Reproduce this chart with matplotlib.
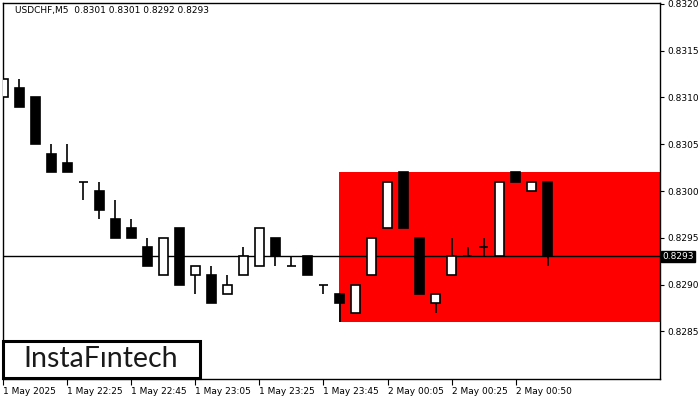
import matplotlib
matplotlib.use("Agg")
import matplotlib.pyplot as plt
from matplotlib.patches import Rectangle

# ---- data ----
opens  = [0.8310, 0.8311, 0.8310, 0.8304, 0.8303, 0.8301, 0.8300, 0.8297, 0.8296, 0.8294,
          0.8291, 0.8296, 0.8291, 0.8291, 0.8289, 0.8291, 0.8292, 0.8295, 0.8292, 0.8293,
          0.8290, 0.8289, 0.8287, 0.8291, 0.8296, 0.8302, 0.8295, 0.8288, 0.8291, 0.8293,
          0.8294, 0.8293, 0.8302, 0.8300, 0.8301]
highs  = [0.8312, 0.8312, 0.8310, 0.8305, 0.8305, 0.8301, 0.8301, 0.8299, 0.8297, 0.8295,
          0.8295, 0.8296, 0.8292, 0.8292, 0.8291, 0.8294, 0.8296, 0.8295, 0.8293, 0.8293,
          0.8290, 0.8289, 0.8290, 0.8295, 0.8301, 0.8302, 0.8295, 0.8289, 0.8295, 0.8294,
          0.8295, 0.8301, 0.8302, 0.8301, 0.8301]
lows   = [0.8309, 0.8309, 0.8305, 0.8302, 0.8302, 0.8299, 0.8297, 0.8295, 0.8295, 0.8292,
          0.8291, 0.8290, 0.8289, 0.8288, 0.8289, 0.8291, 0.8292, 0.8292, 0.8292, 0.8291,
          0.8289, 0.8286, 0.8287, 0.8291, 0.8296, 0.8296, 0.8289, 0.8287, 0.8291, 0.8293,
          0.8293, 0.8293, 0.8301, 0.8300, 0.8292]
closes = [0.8312, 0.8309, 0.8305, 0.8302, 0.8302, 0.8301, 0.8298, 0.8295, 0.8295, 0.8292,
          0.8295, 0.8290, 0.8292, 0.8288, 0.8290, 0.8293, 0.8296, 0.8293, 0.8292, 0.8291,
          0.8290, 0.8288, 0.8290, 0.8295, 0.8301, 0.8296, 0.8289, 0.8289, 0.8293, 0.8293,
          0.8294, 0.8301, 0.8301, 0.8301, 0.8293]

xtick_pos = [0, 4, 8, 12, 16, 20, 24, 28, 32]
xtick_labels = ["1 May 2025", "1 May 22:25", "1 May 22:45", "1 May 23:05", "1 May 23:25",
                "1 May 23:45", "2 May 00:05", "2 May 00:25", "2 May 00:50"]
ytick_vals = [0.8285, 0.8290, 0.8295, 0.8300, 0.8305, 0.8310, 0.8315, 0.8320]

zone_start = 21
zone_low, zone_high = 0.8286, 0.8302
current_price = 0.8293
title = "USDCHF,M5  0.8301 0.8301 0.8292 0.8293"

# ---- figure ----
W, H = 700, 400
fig = plt.figure(figsize=(7, 4), dpi=100)
ax = fig.add_axes([3 / W, (400 - 379) / H, (660 - 3) / W, (379 - 3) / H])
ax.set_xlim(-0.03, 41.03)
ax.set_ylim(0.82799, 0.83201)

# zone rectangle
ax.add_patch(Rectangle((zone_start - 0.03, zone_low), 41.03 - zone_start + 0.03, zone_high - zone_low,
                       facecolor="#ff0000", edgecolor="none", zorder=1))

# current price line
ax.axhline(current_price, color="black", lw=1.0, zorder=2)

bw = 0.62
for i, (o, h, l, c) in enumerate(zip(opens, highs, lows, closes)):
    ax.vlines(i, l, h, color="black", lw=1.2, zorder=3)
    lo, hi = min(o, c), max(o, c)
    if hi - lo < 1e-9:
        ax.hlines(o, i - bw / 2, i + bw / 2, color="black", lw=1.2, zorder=4)
    else:
        face = "white" if c > o else "black"
        ax.add_patch(Rectangle((i - bw / 2, lo), bw, hi - lo, facecolor=face,
                               edgecolor="black", lw=1.2, zorder=4))

# axes styling
for s in ["left", "right", "top", "bottom"]:
    ax.spines[s].set_color("black")
    ax.spines[s].set_linewidth(1.0)

ax.yaxis.tick_right()
ax.set_yticks(ytick_vals)
ax.set_yticklabels([f"{v:.4f}" for v in ytick_vals])
ax.tick_params(axis="y", direction="out", length=3, width=0.8, pad=2,
               labelsize=6.5, colors="black")

ax.set_xticks(xtick_pos)
ax.set_xticklabels(xtick_labels, ha="left")
ax.tick_params(axis="x", direction="out", length=4, width=0.8, pad=2, labelsize=6.5)
for lbl in ax.get_xticklabels():
    lbl.set_horizontalalignment("left")

# current price label
ax.text(1.0035, current_price, f"{current_price:.4f}", transform=ax.get_yaxis_transform(),
        ha="left", va="center", fontsize=6.5, color="white",
        bbox=dict(boxstyle="square,pad=0.15", facecolor="black", edgecolor="black"), zorder=10,
        clip_on=False)

# title
fig.text(15 / W, 1 - 11 / H, title, fontsize=6.5, ha="left", va="center", color="black")

# logo box
fig.patches.append(Rectangle((3 / W, (400 - 378) / H), (200 - 3) / W, (378 - 341) / H,
                             transform=fig.transFigure, facecolor="white", edgecolor="black",
                             lw=2.2, zorder=20))
fig.text(101 / W, 1 - 359 / H, "InstaF\u0131ntech", fontsize=20.5, family="Lato",
         weight="normal", ha="center", va="center", color="#1a1a1a", zorder=21)

fig.savefig("out.png", dpi=100)
